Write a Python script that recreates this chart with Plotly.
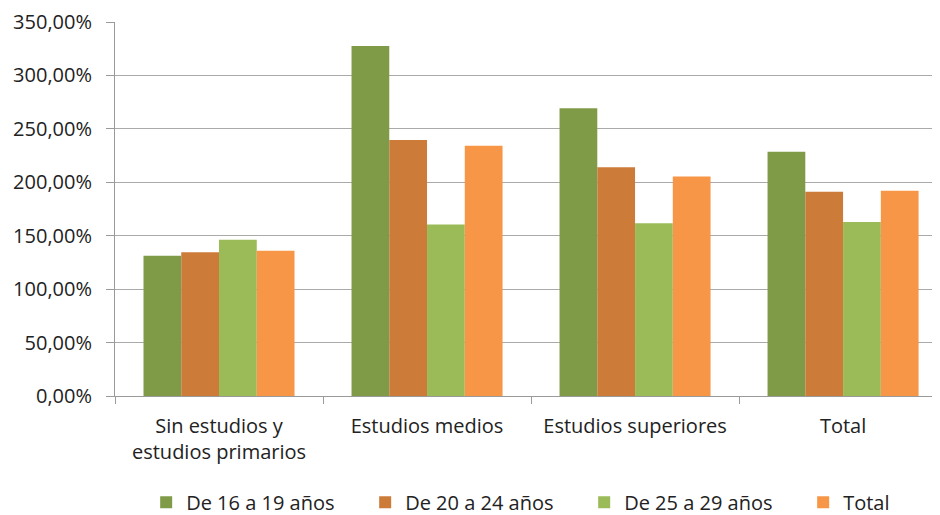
import plotly.graph_objects as go

categories = ["Sin estudios y<br>estudios primarios", "Estudios medios", "Estudios superiores", "Total"]
series_names = ["De 16 a 19 años", "De 20 a 24 años", "De 25 a 29 años", "Total"]
v_16_19 = [131.3, 327.5, 269.2, 228.6]
v_20_24 = [134.5, 239.6, 214.0, 191.2]
v_25_29 = [146.3, 160.6, 161.6, 162.8]
v_total = [136.0, 234.2, 205.3, 192.1]
tick_vals = [0, 50, 100, 150, 200, 250, 300, 350]
tick_text = ["0,00%", "50,00%", "100,00%", "150,00%", "200,00%", "250,00%", "300,00%", "350,00%"]

colors = ["#809b48", "#cd7b38", "#9bbb59", "#f79646"]
series = [v_16_19, v_20_24, v_25_29, v_total]

FONT = "Open Sans"
FS = 20

fig = go.Figure()
for name, vals, col in zip(series_names, series, colors):
    fig.add_trace(go.Bar(x=categories, y=vals, name=name, marker=dict(color=col, line=dict(width=0))))

fig.update_layout(
    width=932, height=507,
    margin=dict(l=107, r=0, t=14, b=119, autoexpand=False),
    paper_bgcolor="white", plot_bgcolor="white",
    barmode="group", bargap=0.274, bargroupgap=0,
    font=dict(family=FONT, size=FS, color="#333333"),
    legend=dict(orientation="h", x=-0.001, xanchor="left", y=-0.284, yanchor="middle",
                font=dict(family=FONT, size=FS, color="#222222"),
                borderwidth=32, bordercolor="rgba(255,255,255,0)", bgcolor="rgba(255,255,255,0)",
                entrywidth=174, entrywidthmode="pixels", itemwidth=30, traceorder="normal"),
    showlegend=True,
)
fig.update_xaxes(range=[-0.5, 3.466], tickson="boundaries", ticks="outside", ticklen=7,
                 tickcolor="#9a9a9a", showline=True, linecolor="#9a9a9a", linewidth=1,
                 showgrid=False, automargin=False, ticklabelstandoff=12,
                 tickfont=dict(family=FONT, size=FS, color="#222222"))
fig.update_yaxes(range=[0, 350], tickvals=tick_vals, ticktext=tick_text, ticks="outside", ticklen=8,
                 tickcolor="#9a9a9a", showline=True, linecolor="#9a9a9a", linewidth=1,
                 showgrid=True, gridcolor="#aaaaaa", gridwidth=1, zeroline=False, automargin=False,
                 ticklabelstandoff=10,
                 tickfont=dict(family=FONT, size=FS, color="#222222"))

fig.write_html("out.html")
